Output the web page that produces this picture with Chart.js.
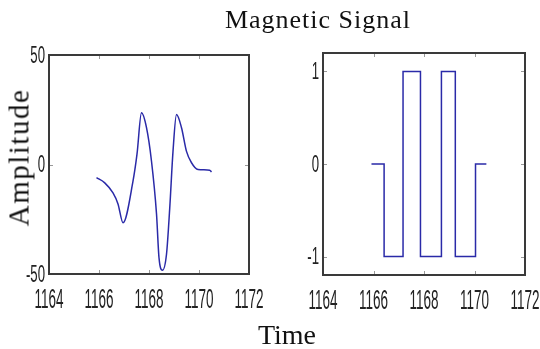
<!DOCTYPE html>
<html>
<head>
<meta charset="utf-8">
<script src="https://cdn.jsdelivr.net/npm/chart.js@4/dist/chart.umd.min.js"></script>
<style>
  html, body { margin:0; padding:0; background:#fff; width:540px; height:349px; overflow:hidden; position:relative; }
  canvas { position:absolute; top:0; }
  .lbl { position:absolute; font-family:"Liberation Serif","Times New Roman",serif; color:#111; white-space:nowrap; line-height:1; }
</style>
</head>
<body>
<canvas id="left" width="270" height="349" style="left:0"></canvas>
<canvas id="right" width="275" height="349" style="left:270px"></canvas>
<div class="lbl" id="title" style="font-size:26px; letter-spacing:1px; top:7px; left:0; width:636px; text-align:center;">Magnetic Signal</div>
<div class="lbl" id="ylab" style="font-size:29px; letter-spacing:1.5px; width:200px; height:29px; left:-81px; top:143px; text-align:center; transform:rotate(-90deg);">Amplitude</div>
<div class="lbl" id="xlab" style="font-size:28px; top:321px; left:187px; width:200px; text-align:center;">Time</div>
<script>
// ---- data ----
const xTicks = [1164, 1166, 1168, 1170, 1172];
const leftYTicks = [-50, 0, 50];
const rightYTicks = [-1, 0, 1];

const timeL = [1165.9, 1166.23, 1166.56, 1166.76, 1166.96, 1167.36, 1167.52, 1167.7, 1167.9, 1168.1, 1168.3, 1168.4, 1168.54, 1168.7, 1168.83, 1168.96, 1169.1, 1169.3, 1169.5, 1169.7, 1169.96, 1170.43, 1170.5];
const amplitude = [-6, -8.4, -13, -18, -26.6, -7.6, 4.7, 23.6, 16.8, 1.5, -22.5, -42.6, -48.3, -41, -19.8, 6, 22.8, 16.8, 6, 0.8, -2.3, -2.6, -3.4];

const timeR = [1165.92, 1166.42, 1167.17, 1167.86, 1168.69, 1169.24, 1170.04, 1170.47];
const signal = [0, -1, 1, -1, 1, -1, 0, 0];

// ---- styling ----
const lineColor = '#2a2aa8';
const labelFamily = "'Liberation Sans', Arial, sans-serif";

const framePlugin = {
  id: 'frame',
  afterDraw(chart) {
    const { ctx, chartArea: a, scales } = chart;
    const xs = scales.x, ys = scales.y;
    ctx.save();
    // inward tick marks on all four sides
    ctx.strokeStyle = '#999';
    ctx.lineWidth = 1;
    const L = 4;
    ctx.beginPath();
    xs.ticks.forEach(t => {
      const px = Math.round(xs.getPixelForValue(t.value)) + 0.5;
      ctx.moveTo(px, a.top); ctx.lineTo(px, a.top + L);
      ctx.moveTo(px, a.bottom); ctx.lineTo(px, a.bottom - L);
    });
    ys.ticks.forEach(t => {
      const py = Math.round(ys.getPixelForValue(t.value)) + 0.5;
      ctx.moveTo(a.left, py); ctx.lineTo(a.left + L, py);
      ctx.moveTo(a.right, py); ctx.lineTo(a.right - L, py);
    });
    ctx.stroke();
    // box
    ctx.strokeStyle = '#3a3a3a';
    ctx.lineWidth = 2;
    ctx.strokeRect(a.left, a.top, a.right - a.left, a.bottom - a.top);
    // tick labels (tall, narrow, as in the reference)
    ctx.fillStyle = '#222';
    ctx.textBaseline = 'alphabetic';
    ctx.font = '27px ' + labelFamily;
    ctx.textAlign = 'center';
    xs.ticks.forEach(t => {
      const px = xs.getPixelForValue(t.value);
      ctx.save(); ctx.translate(px, a.bottom + 34); ctx.scale(0.5, 1);
      ctx.fillText(String(t.value), 0, 0); ctx.restore();
    });
    ctx.font = '24px ' + labelFamily;
    ctx.textAlign = 'right';
    ctx.textBaseline = 'middle';
    ys.ticks.forEach(t => {
      const py = ys.getPixelForValue(t.value);
      ctx.save(); ctx.translate(a.left - 4, py + 1); ctx.scale(0.55, 1);
      ctx.fillText(String(t.value), 0, 0); ctx.restore();
    });
    ctx.restore();
  }
};

function makeChart(id, xs, ys, yMin, yMax, yTicks, yWidth, pad, xHeight, stepped) {
  return new Chart(document.getElementById(id), {
    type: 'line',
    data: {
      datasets: [{
        data: xs.map((x, i) => ({ x: x, y: ys[i] })),
        borderColor: lineColor,
        borderWidth: 1.5,
        pointRadius: 0,
        fill: false,
        stepped: stepped ? 'before' : false,
        cubicInterpolationMode: stepped ? 'default' : 'monotone'
      }]
    },
    options: {
      responsive: false,
      devicePixelRatio: 1,
      animation: false,
      layout: { padding: pad },
      plugins: { legend: { display: false }, tooltip: { enabled: false }, title: { display: false } },
      scales: {
        x: {
          type: 'linear', min: 1164, max: 1172,
          afterBuildTicks: s => { s.ticks = xTicks.map(v => ({ value: v })); },
          afterFit: s => { s.height = xHeight; },
          ticks: { display: false },
          grid: { display: false, drawTicks: false },
          border: { display: false }
        },
        y: {
          type: 'linear', min: yMin, max: yMax,
          afterBuildTicks: s => { s.ticks = yTicks.map(v => ({ value: v })); },
          afterFit: s => { s.width = yWidth; },
          ticks: { display: false },
          grid: { display: false, drawTicks: false },
          border: { display: false }
        }
      }
    },
    plugins: [framePlugin]
  });
}

makeChart('left', timeL, amplitude, -50, 50, leftYTicks, 49, { left: 0, top: 55, right: 21, bottom: 0 }, 75, false);
makeChart('right', timeR, signal, -1.2, 1.2, rightYTicks, 53, { left: 0, top: 53, right: 20, bottom: 0 }, 74, true);
</script>
</body>
</html>
